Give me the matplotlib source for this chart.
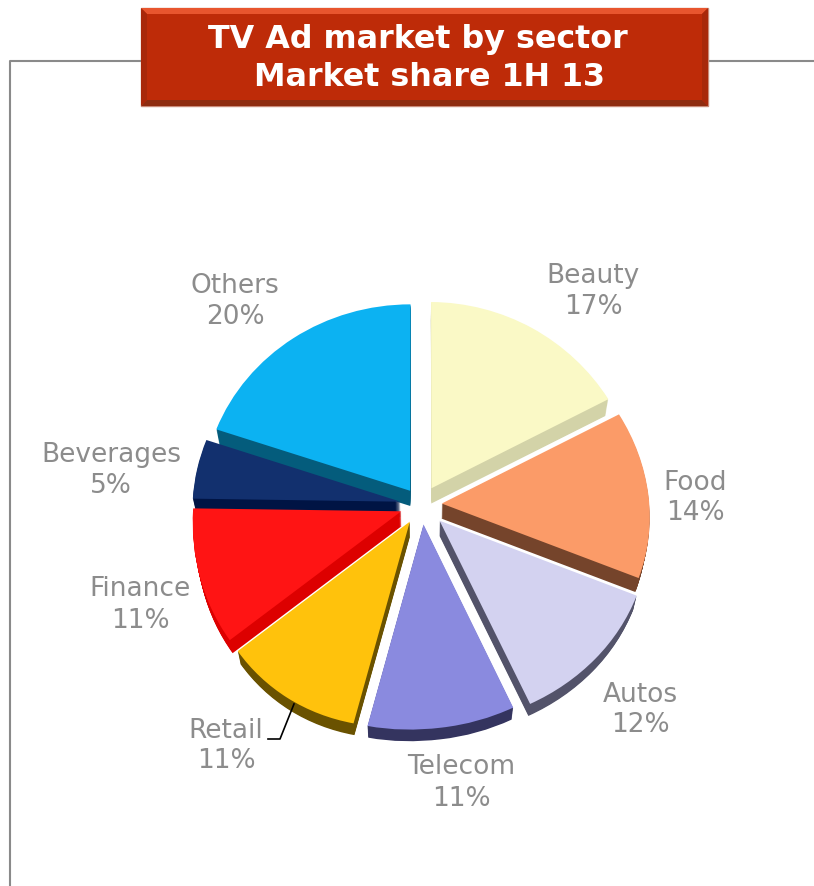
import numpy as np
import matplotlib
matplotlib.use('Agg')
import matplotlib.pyplot as plt
from matplotlib.patches import Rectangle, Polygon
from matplotlib.transforms import Transform

sectors = ['Beauty', 'Food', 'Autos', 'Telecom', 'Retail', 'Finance', 'Beverages', 'Others']
shares = [17, 14, 12, 11, 11, 11, 5, 20]
explode = [0.10, 0.10, 0.12, 0.10, 0.10, 0.10, 0.10, 0.09]
top_colors = ['#FAF9C6', '#FB9B68', '#D3D2F0', '#8A8ADF', '#FFC20C', '#FF1414', '#12306E', '#0CB2F2']
side_colors = ['#D3D3A8', '#75442B', '#53536A', '#34345F', '#6A5200', '#DD0000', '#001444', '#045C7C']

label_x = [593, 695, 640, 461, 226, 140, 111, 235]
label_y = [291, 498, 710, 783, 746, 605, 470, 301]

W, H = 814, 886
CX, CY = 421, H - 505
DEPTH = 15


class Tilt(Transform):
    """Unit pie to pixels: near side bigger than far side, front leaning left."""
    input_dims = 2
    output_dims = 2

    def __init__(self, drop=0.0, shrink=1.0):
        super().__init__()
        self.drop = drop
        self.shrink = shrink

    def transform_non_affine(self, xy):
        xy = np.asarray(xy)
        x, y = xy[:, 0], xy[:, 1]
        s = self.shrink / (1 + 0.04 * y)
        lean = 8 * np.minimum(y, 0) ** 2
        sag = 5 * np.maximum(x, 0) ** 2 + 8 * np.maximum(-x, 0) * np.maximum(-y, 0)
        return np.column_stack([CX + 208 * x * s - lean,
                                CY + 195 * y * s - sag - self.drop])


plt.rcParams['font.family'] = ['DejaVu Sans']
fig = plt.figure(figsize=(W / 100, H / 100), dpi=100)
ax = fig.add_axes([0, 0, 1, 1])

# frame behind the title
ax.plot([10, 10, W], [0, H - 61, H - 61], color='#8A8A8A', lw=1.5, zorder=1)

# stack of dark copies going down gives the depth, light copy on top
for drop in range(DEPTH, 0, -1):
    side, _ = ax.pie(shares, explode=explode, colors=side_colors, startangle=90, counterclock=False,
                     frame=True, wedgeprops={'lw': 0, 'zorder': 2})
    for w in side:
        w.set_transform(Tilt(drop=drop, shrink=1 - 0.015 * drop / DEPTH) + ax.transData)
top, _ = ax.pie(shares, explode=explode, colors=top_colors, startangle=90, counterclock=False,
                frame=True, wedgeprops={'lw': 0, 'zorder': 3})
for w in top:
    w.set_transform(Tilt() + ax.transData)

ax.set_aspect('auto')
ax.set_xlim(0, W)
ax.set_ylim(0, H)
ax.axis('off')

for name, val, x, y in zip(sectors, shares, label_x, label_y):
    ax.text(x, H - y, f'{name}\n{val}%', ha='center', va='center', fontsize=19,
            color='#8C8C8C', linespacing=1.25, zorder=5)

# leader line of Retail
ax.plot([268, 280, 294], [H - 739, H - 739, H - 704], color='black', lw=1.2, zorder=5)

# title box
ax.add_patch(Rectangle((141, H - 106), 567, 98, fc='#BE2B08', ec='#C98A78', lw=1, zorder=6))
ax.add_patch(Polygon([(141, H - 8), (708, H - 8), (702, H - 14), (147, H - 14)], fc='#E8552E', lw=0, zorder=7))
ax.add_patch(Polygon([(141, H - 106), (708, H - 106), (702, H - 100), (147, H - 100)], fc='#8E2C10', lw=0, zorder=7))
ax.add_patch(Polygon([(141, H - 8), (147, H - 14), (147, H - 100), (141, H - 106)], fc='#A8280A', lw=0, zorder=7))
ax.add_patch(Polygon([(708, H - 8), (702, H - 14), (702, H - 100), (708, H - 106)], fc='#A8280A', lw=0, zorder=7))
ax.text(418, H - 39, 'TV Ad market by sector', ha='center', va='center', fontsize=22.9,
        fontweight='bold', color='white', zorder=8)
ax.text(430, H - 77, 'Market share 1H 13', ha='center', va='center', fontsize=22.9,
        fontweight='bold', color='white', zorder=8)

fig.savefig('out.png', dpi=100)
